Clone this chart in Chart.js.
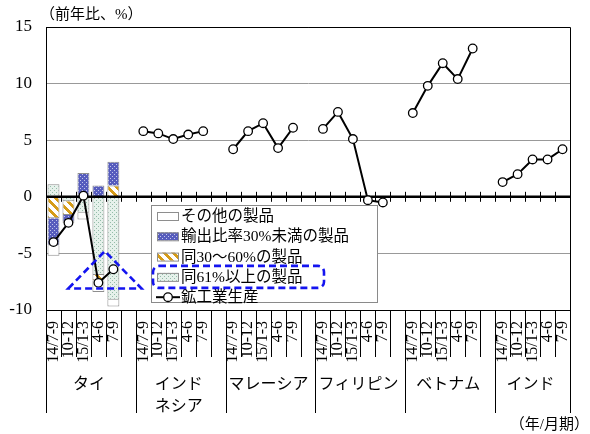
<!DOCTYPE html>
<html>
<head>
<meta charset="utf-8">
<script src="https://cdn.jsdelivr.net/npm/chart.js@4/dist/chart.umd.min.js"></script>
<style>
  html, body { margin: 0; padding: 0; background: #fff; }
  #wrap { width: 590px; height: 434px; position: relative; }
</style>
</head>
<body>
<div id="wrap"><canvas id="c" width="590" height="434"></canvas></div>
<script>
// Quarters shown for every country, and the country groups
const periods = ['14/7-9', '10-12', '15/1-3', '4-6', '7-9'];
const countries = ['タイ', 'インド\nネシア', 'マレーシア', 'フィリピン', 'ベトナム', 'インド'];

// Industrial production, y/y %
const prodThailand   = [-4.0, -2.3, 0.1, -7.6, -6.4];
const prodIndonesia  = [5.8, 5.6, 5.1, 5.5, 5.8];
const prodMalaysia   = [4.2, 5.8, 6.5, 4.3, 6.1];
const prodPhilippine = [6.0, 7.5, 5.1, -0.3, -0.5];
const prodVietnam    = [7.4, 9.8, 11.8, 10.4, 13.1];
const prodIndia      = [1.3, 2.0, 3.3, 3.3, 4.2];

// Thailand: contributions by export ratio of the product, % points
const thaiOther   = [-0.9, -0.1, -0.6, -1.0, -0.6];
const thaiUnder30 = [-2.4, -0.6, 2.1, 1.0, 2.1];
const thai30to60  = [-1.9, -1.2, 0.0, -0.5, 1.0];
const thaiOver61  = [1.1, -0.4, -1.4, -6.9, -9.1];

const seriesNames = ['その他の製品', '輸出比率30%未満の製品', '同30～60%の製品', '同61%以上の製品', '鉱工業生産'];
const yTicks = [-10, -5, 0, 5, 10, 15];
const yTitle = '（前年比、%）';
const xUnit = '（年/月期）';

const SERIF = '"Liberation Serif", "Noto Sans CJK JP", serif';
const CJK = '"Noto Sans CJK JP", sans-serif';

// Category axis: five quarters per country, one empty slot between countries
const labels = [];
countries.forEach((c, gi) => {
  periods.forEach(p => labels.push(p));
  if (gi < countries.length - 1) labels.push('');
});

function expand(perGroup) {
  const out = [];
  perGroup.forEach((vals, gi) => {
    periods.forEach((p, i) => out.push(vals ? vals[i] : null));
    if (gi < perGroup.length - 1) out.push(null);
  });
  return out;
}
const production = expand([prodThailand, prodIndonesia, prodMalaysia, prodPhilippine, prodVietnam, prodIndia]);
const thaiOnly = arr => expand([arr, null, null, null, null, null]);

// Fill patterns
function tile(w, h, fn) {
  const cv = document.createElement('canvas');
  cv.width = w; cv.height = h;
  const g = cv.getContext('2d');
  fn(g);
  return g.createPattern(cv, 'repeat');
}
const ctx0 = document.getElementById('c').getContext('2d');
const patBlue = tile(4, 4, g => {
  g.fillStyle = '#565cbd'; g.fillRect(0, 0, 4, 4);
  g.fillStyle = '#c3c6ec'; g.fillRect(0, 0, 1, 1); g.fillRect(2, 2, 1, 1);
});
const patGreen = tile(4, 4, g => {
  g.fillStyle = '#e6f1eb'; g.fillRect(0, 0, 4, 4);
  g.fillStyle = '#93bba8'; g.fillRect(0, 0, 1, 1); g.fillRect(2, 2, 1, 1);
});
const patStripe = tile(9, 9, g => {
  g.fillStyle = '#ffffff'; g.fillRect(0, 0, 9, 9);
  g.fillStyle = '#d69c18';
  for (let y = 0; y < 9; y++) for (let x = 0; x < 9; x++) {
    if (((x - y) % 9 + 9) % 9 < 4) g.fillRect(x, y, 1, 1);
  }
});
const fills = ['#ffffff', patBlue, patStripe, patGreen];

const BAR_BORDER = '#8e8e8e';
const barCommon = { stack: 'exp', order: 1, borderColor: BAR_BORDER, borderWidth: 1, barPercentage: 0.8, categoryPercentage: 1.0 };

// Stacking order from zero outward: 61%+ , 30-60%, <30%, other
const datasets = [
  Object.assign({ label: seriesNames[3], data: thaiOnly(thaiOver61), backgroundColor: patGreen }, barCommon),
  Object.assign({ label: seriesNames[2], data: thaiOnly(thai30to60), backgroundColor: patStripe }, barCommon),
  Object.assign({ label: seriesNames[1], data: thaiOnly(thaiUnder30), backgroundColor: patBlue }, barCommon),
  Object.assign({ label: seriesNames[0], data: thaiOnly(thaiOther), backgroundColor: '#ffffff' }, barCommon),
  {
    type: 'line', label: seriesNames[4], data: production, stack: 'prod', order: 0,
    borderColor: '#000', borderWidth: 2, spanGaps: false, tension: 0,
    pointRadius: 4.3, pointBackgroundColor: '#fff', pointBorderColor: '#000', pointBorderWidth: 1.3
  }
];

const decor = {
  id: 'decor',
  beforeDatasetDraw(chart, args) {
    if (args.index !== 4) return;
    const { ctx, chartArea: a, scales: { x, y } } = chart;
    const y0 = y.getPixelForValue(0);
    ctx.save();
    ctx.strokeStyle = '#000';
    ctx.lineWidth = 2.5;
    ctx.beginPath(); ctx.moveTo(a.left, y0); ctx.lineTo(a.right, y0); ctx.stroke();
    ctx.lineWidth = 1;
    for (let i = 1; i < labels.length; i++) {
      const px = Math.round(x.getPixelForValue(i - 0.5)) + 0.5;
      ctx.beginPath(); ctx.moveTo(px, y0 - 5); ctx.lineTo(px, y0 + 5); ctx.stroke();
    }
    ctx.restore();
  },
  afterDraw(chart) {
    const { ctx, chartArea: a, scales: { x, y } } = chart;
    ctx.save();
    // frame top/right
    ctx.strokeStyle = '#000'; ctx.lineWidth = 1;
    ctx.beginPath();
    ctx.moveTo(a.left, a.top + 0.5); ctx.lineTo(a.right + 0.5, a.top + 0.5); ctx.lineTo(a.right + 0.5, a.bottom);
    ctx.stroke();

    // separators under the axis
    const n = labels.length;
    for (let i = 0; i <= n; i++) {
      const px = Math.round(x.getPixelForValue(i - 0.5)) + 0.5;
      const isGroup = (i % 6 === 0) || i === n;
      ctx.beginPath(); ctx.moveTo(px, a.bottom); ctx.lineTo(px, isGroup ? 413 : 357); ctx.stroke();
    }

    // country names
    ctx.fillStyle = '#000';
    ctx.font = '16px ' + CJK;
    ctx.textAlign = 'center'; ctx.textBaseline = 'middle';
    countries.forEach((c, gi) => {
      const s = x.getPixelForValue(gi * 6 - 0.5);
      const e = x.getPixelForValue(Math.min(gi * 6 + 6, n) - 0.5);
      const cx = (s + e) / 2 - 2;
      c.split('\n').forEach((line, li) => ctx.fillText(line, cx, 383 + li * 22));
    });

    // axis title and unit
    ctx.font = '15px ' + SERIF;
    ctx.textAlign = 'left';
    ctx.fillText(yTitle, 40, 15);
    ctx.textAlign = 'right';
    ctx.fillText(xUnit, 589, 425);

    // legend
    const lx = 151, ly = 205, lw = 226, lh = 97;
    ctx.fillStyle = '#fff';
    ctx.fillRect(lx, ly, lw, lh);
    ctx.strokeStyle = '#8a8a8a'; ctx.lineWidth = 1;
    ctx.strokeRect(lx + 0.5, ly + 0.5, lw, lh);
    const rowY = i => ly + 11 + i * 20.3;
    ctx.textAlign = 'left'; ctx.textBaseline = 'middle';
    ctx.font = '15.5px ' + SERIF;
    seriesNames.forEach((name, i) => {
      const cy = rowY(i);
      if (i < 4) {
        ctx.fillStyle = fills[i];
        ctx.fillRect(157, cy - 4, 21, 8);
        ctx.strokeStyle = BAR_BORDER;
        ctx.strokeRect(157.5, cy - 3.5, 21, 8);
      } else {
        ctx.strokeStyle = '#000'; ctx.lineWidth = 2;
        ctx.beginPath(); ctx.moveTo(156, cy); ctx.lineTo(180, cy); ctx.stroke();
        ctx.fillStyle = '#fff'; ctx.lineWidth = 1.3;
        ctx.beginPath(); ctx.arc(168, cy, 4.3, 0, Math.PI * 2); ctx.fill(); ctx.stroke();
        ctx.lineWidth = 1;
      }
      ctx.fillStyle = '#000';
      ctx.fillText(name, 181, cy + 1);
    });

    // highlight: 61%+ item and the Thai drop in 2015
    ctx.strokeStyle = '#1414f0';
    ctx.lineWidth = 2.6;
    ctx.setLineDash([7, 4]);
    ctx.beginPath();
    ctx.roundRect(153, rowY(3) - 11, 171, 22, 6);
    ctx.stroke();
    ctx.beginPath();
    ctx.moveTo(x.getPixelForValue(0.99), y.getPixelForValue(-8.1));
    ctx.lineTo(x.getPixelForValue(3.43), y.getPixelForValue(-4.8));
    ctx.lineTo(x.getPixelForValue(5.88), y.getPixelForValue(-8.1));
    ctx.closePath();
    ctx.stroke();
    ctx.restore();
  }
};

new Chart(ctx0, {
  type: 'bar',
  data: { labels, datasets },
  plugins: [decor],
  options: {
    responsive: false,
    animation: false,
    devicePixelRatio: 1,
    layout: { padding: { top: 27, right: 20, left: 0, bottom: 0 } },
    plugins: { legend: { display: false }, tooltip: { enabled: false } },
    scales: {
      x: {
        stacked: true,
        offset: true,
        grid: { display: false },
        border: { display: true, color: '#000', width: 1 },
        ticks: {
          autoSkip: false, maxRotation: 90, minRotation: 90, padding: 3,
          color: '#000', font: { family: SERIF, size: 16 }
        },
        afterFit(s) { s.height = 124; }
      },
      y: {
        stacked: true,
        min: -10, max: 15,
        afterBuildTicks(s) { s.ticks = yTicks.map(v => ({ value: v })); },
        grid: {
          drawTicks: false,
          color: c => (c.tick.value === 15 || c.tick.value === -10) ? '#000' : (c.tick.value === 0 ? 'rgba(0,0,0,0)' : '#999'),
          lineWidth: 1
        },
        border: { display: true, color: '#000', width: 1 },
        ticks: { padding: 14, color: '#000', font: { family: SERIF, size: 17 } },
        afterFit(s) { s.width = 46; }
      }
    }
  }
});
</script>
</body>
</html>
